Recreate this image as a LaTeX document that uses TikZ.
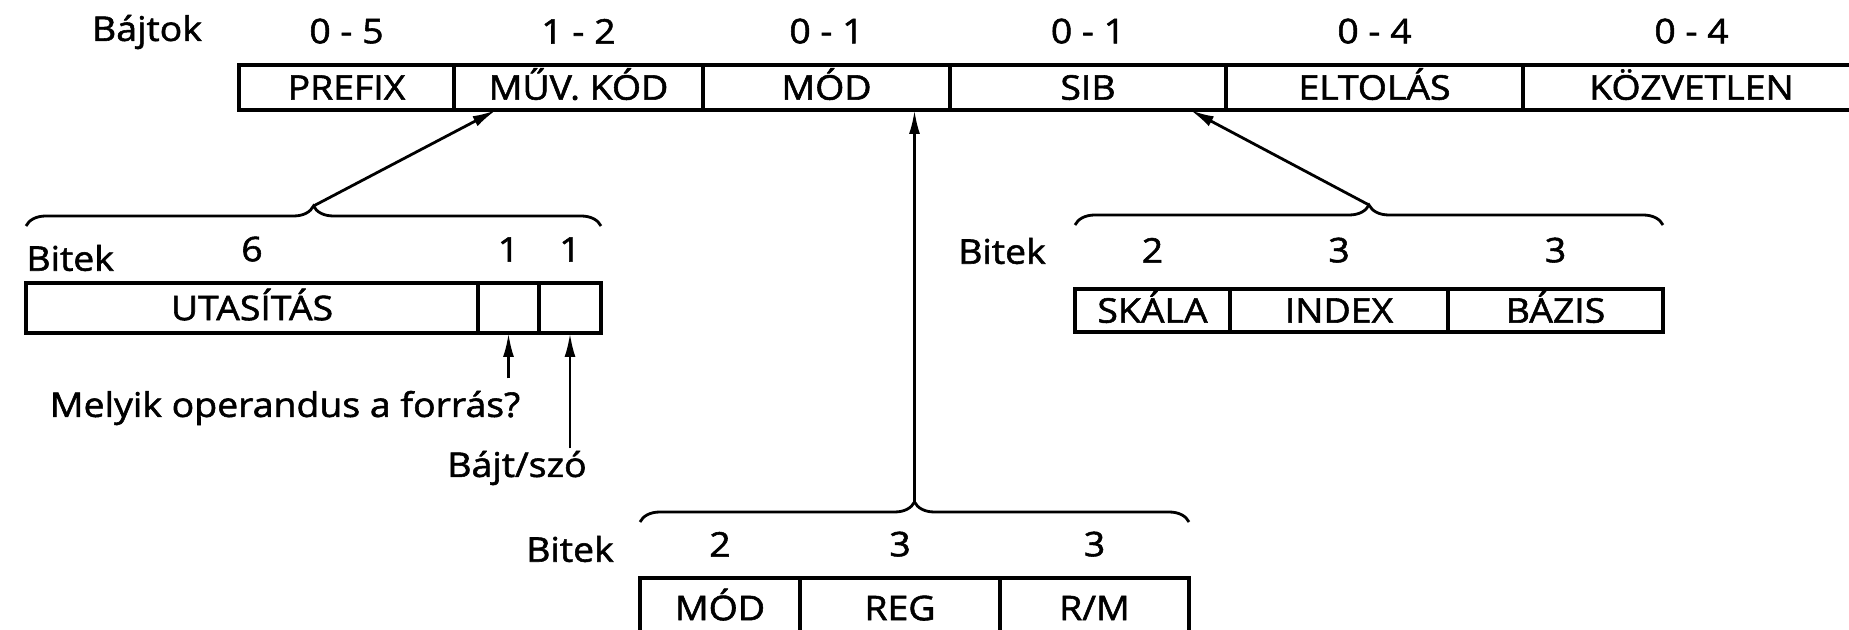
\documentclass[tikz,border=0pt]{standalone}
\usepackage{fontspec}
\setmainfont{Open Sans}[FakeStretch=1.1, FakeBold=1.6]
\usetikzlibrary{arrows.meta,calc,positioning,decorations.pathreplacing}

\begin{document}
\begin{tikzpicture}[x=0.5pt, y=-0.5pt, >=Latex, node distance=10.5pt,
    font=\fontsize{17}{20}\selectfont,
    field/.style={draw, line width=1.9pt, outer sep=0pt, inner sep=0pt, minimum height=22.5pt,
      text height=12.2pt, text depth=0pt},
    num/.style={inner sep=0pt},
    arr/.style={-{Latex[length=12pt,width=5.5pt]}, line width=1.4pt},
    brc/.style={decorate, decoration={brace, amplitude=10pt}, line width=1.4pt}]
    \useasboundingbox (0,0) rectangle (1849,630);

    % bytes of the instruction
    \node[field, minimum width=107.5pt, anchor=west] (prefix) at (239,87.5) {PREFIX};
    \node[field, minimum width=124.5pt, right=0pt of prefix] (opcode) {MŰV. KÓD};
    \node[field, minimum width=123.5pt, right=0pt of opcode] (mod) {MÓD};
    \node[field, minimum width=138pt, right=0pt of mod] (sib) {SIB};
    \node[field, minimum width=148.5pt, right=0pt of sib] (disp) {ELTOLÁS};
    \node[field, minimum width=168.5pt, right=0pt of disp] (imm) {KÖZVETLEN};
    \node (bajtok) at (147,32) {Bájtok};
    \node[num, above=of prefix] (bprefix) {0 - 5};
    \node[num, above=of opcode] (bopcode) {1 - 2};
    \node[num, above=of mod] (bmod) {0 - 1};
    \node[num, above=of sib] (bsib) {0 - 1};
    \node[num, above=of disp] (bdisp) {0 - 4};
    \node[num, above=of imm] (bimm) {0 - 4};

    % opcode bits
    \node[field, minimum width=226pt, minimum height=25pt, anchor=west] (utas) at (26,308) {UTASÍTÁS};
    \node[field, minimum width=30.5pt, minimum height=25pt, right=0pt of utas] (dbit) {};
    \node[field, minimum width=31pt, minimum height=25pt, right=0pt of dbit] (wbit) {};
    \node[anchor=west, inner sep=0pt] (bitekL) at (26,258) {Bitek};
    \node[num, above=of utas] (nutas) {6};
    \node[num, above=of dbit] (ndbit) {1};
    \node[num, above=of wbit] (nwbit) {1};
    \draw[brc] ($(utas.north west)+(0,-57)$) -- ($(wbit.north east)+(0,-57)$);
    \coordinate (tipL) at ($(utas.north west)!0.5!(wbit.north east)+(0,-77)$);
    \draw[arr] (tipL) -- ($(opcode.south west)!0.17!(opcode.south east)$);
    \node[inner sep=1pt] (forras) at (285,408) {Melyik operandus a forrás?};
    \node[inner sep=1pt] (bajtszo) at (517,468) {Bájt/szó};
    \draw[arr, shorten <=5pt] (forras.north -| dbit.south) -- (dbit.south);
    \draw[arr] (bajtszo.north -| wbit.south) -- (wbit.south);

    % SIB bits
    \node[field, minimum width=77.5pt, minimum height=21.5pt, anchor=west] (skala) at (1075,310.5) {SKÁLA};
    \node[field, minimum width=109pt, minimum height=21.5pt, right=0pt of skala] (index) {INDEX};
    \node[field, minimum width=107.5pt, minimum height=21.5pt, right=0pt of index] (bazis) {BÁZIS};
    \node (bitekR) at (1002,251) {Bitek};
    \node[num, above=13pt of skala] (nskala) {2};
    \node[num, above=13pt of index] (nindex) {3};
    \node[num, above=13pt of bazis] (nbazis) {3};
    \draw[brc] ($(skala.north west)+(0,-64)$) -- ($(bazis.north east)+(0,-64)$);
    \coordinate (tipR) at ($(skala.north west)!0.5!(bazis.north east)+(0,-84)$);
    \draw[arr] (tipR) -- ($(sib.south west)!0.87!(sib.south east)$);

    % MOD byte bits
    \node[field, minimum width=80pt, minimum height=30pt, anchor=west] (mmod) at (640,608) {MÓD};
    \node[field, minimum width=100pt, minimum height=30pt, right=0pt of mmod] (reg) {REG};
    \node[field, minimum width=94.5pt, minimum height=30pt, right=0pt of reg] (rm) {R/M};
    \node (bitekB) at (570,549) {Bitek};
    \node[num, above=of mmod] (nmmod) {2};
    \node[num, above=of reg] (nreg) {3};
    \node[num, above=of rm] (nrm) {3};
    \draw[brc] ($(mmod.north west)+(0,-56)$) -- ($(rm.north east)+(0,-56)$);
    \coordinate (tipB) at ($(mmod.north west)!0.5!(rm.north east)+(0,-76)$);
    \draw[arr] (tipB) -- (tipB |- mod.south);
\end{tikzpicture}
\end{document}
